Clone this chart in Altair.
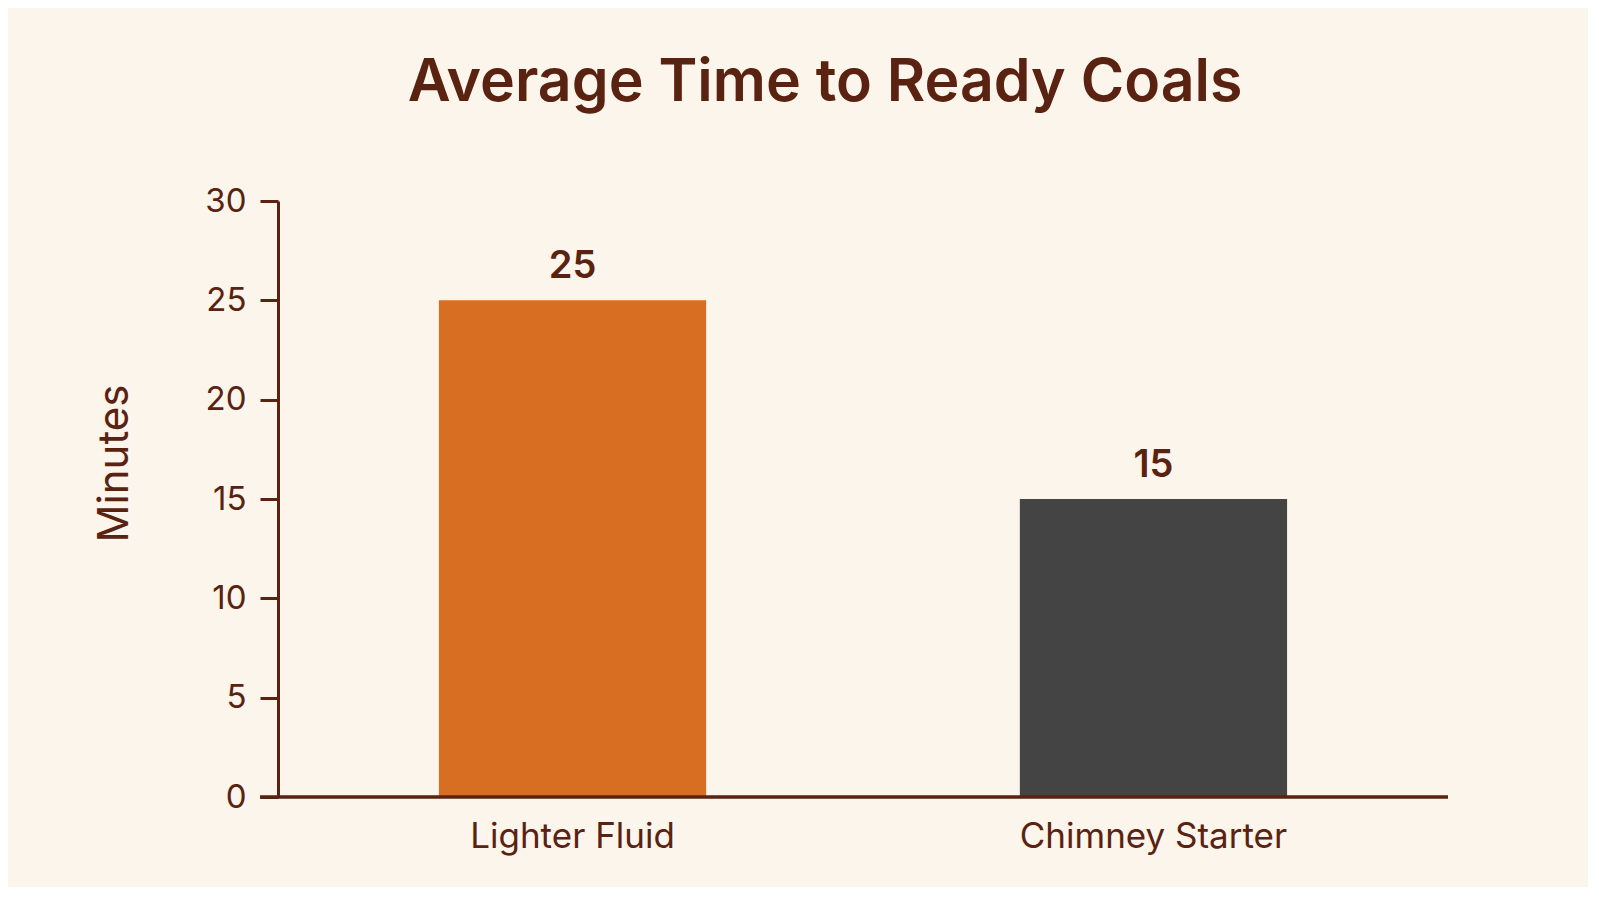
import pandas as pd
import altair as alt

# values
methods = ["Lighter Fluid", "Chimney Starter"]
minutes = [25, 15]
bar_colors = ["#D86E22", "#444444"]

BG = "#FBF5EB"
INK = "#5A2210"
FONT = "Inter"

data = pd.DataFrame({"Method": methods, "Minutes": minutes})

W, H = 1170, 596

base = alt.Chart(data).encode(
    x=alt.X("Method:N", sort=methods, title=None,
            scale=alt.Scale(paddingInner=0.54, paddingOuter=0.277),
            axis=alt.Axis(domain=False, ticks=False, labelAngle=0, labelFontSize=35,
                          labelColor=INK, labelFont=FONT, labelPadding=22, labelLimit=0)),
)

bars = base.mark_bar().encode(
    y=alt.Y("Minutes:Q", scale=alt.Scale(domain=[0, 30]),
            axis=alt.Axis(values=[0, 5, 10, 15, 20, 25, 30], grid=False,
                          domainColor=INK, domainWidth=3, tickColor=INK, tickWidth=3,
                          tickSize=18, labelPadding=14, labelFontSize=33, labelColor=INK,
                          labelFont=FONT, title="Minutes", titleFontSize=42,
                          titleFontWeight="normal", titleColor=INK, titleFont=FONT,
                          titleAngle=-90, titleX=-164, titleY=262,
                          titleAlign="center", titleBaseline="middle")),
    color=alt.Color("Method:N", scale=alt.Scale(domain=methods, range=bar_colors), legend=None),
)

value_text = base.mark_text(baseline="bottom", dy=-14, fontSize=38, fontWeight=600,
                            color=INK, font=FONT).encode(
    y="Minutes:Q",
    text=alt.Text("Minutes:Q"),
)

baseline = alt.Chart(data).mark_rule(color=INK, strokeWidth=3).encode(
    x=alt.value(-18), x2=alt.value(W), y=alt.datum(0)
)

chart = (bars + value_text + baseline).properties(
    width=W, height=H,
    background=BG,
    padding={"left": 270, "top": 193, "right": 140, "bottom": 90},
    autosize=alt.AutoSizeParams(type="none"),
    title=alt.TitleParams("Average Time to Ready Coals", fontSize=59, fontWeight=600,
                          color=INK, font=FONT, anchor="middle", dx=-38, offset=72),
).configure_view(stroke=None)

chart.save("out.html", embed_options={"renderer": "svg", "actions": False})
